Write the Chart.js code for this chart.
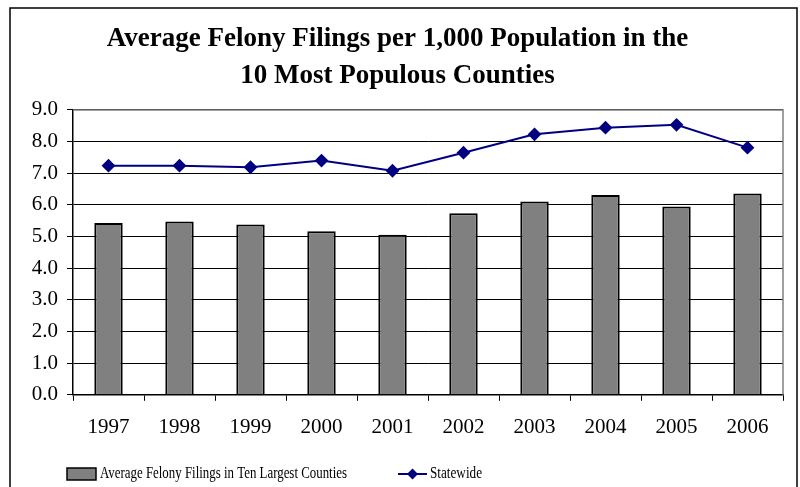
<!DOCTYPE html>
<html>
<head>
<meta charset="utf-8">
<script src="https://cdn.jsdelivr.net/npm/chart.js@4.4.1/dist/chart.umd.min.js"></script>
<style>
  body { margin: 0; background: #fff; }
</style>
</head>
<body>
<canvas id="myChart" width="800" height="487"></canvas>
<script>
// data
const years = ['1997', '1998', '1999', '2000', '2001', '2002', '2003', '2004', '2005', '2006'];
const tenLargest = [5.43, 5.48, 5.38, 5.17, 5.06, 5.74, 6.11, 6.31, 5.95, 6.36];
const statewide = [7.24, 7.24, 7.19, 7.40, 7.08, 7.65, 8.23, 8.44, 8.53, 7.81];
const titleLines = ['Average Felony Filings per 1,000 Population in the', '10 Most Populous Counties'];
const legendNames = ['Average Felony Filings in Ten Largest Counties', 'Statewide'];

const serif = "'Liberation Serif', 'DejaVu Serif', serif";

// outer frame + gray plot border + custom legend
const framePlugin = {
  id: 'frame',
  beforeDraw(chart) {
    const ctx = chart.ctx;
    ctx.save();
    ctx.fillStyle = '#fff';
    ctx.fillRect(0, 0, chart.width, chart.height);
    ctx.strokeStyle = '#000';
    ctx.lineWidth = 1.5;
    ctx.strokeRect(10, 8, 787, 500);
    ctx.restore();
  },
  afterDatasetsDraw(chart) {
    const ctx = chart.ctx;
    const a = chart.chartArea;
    ctx.save();
    ctx.strokeStyle = '#808080';
    ctx.lineWidth = 1.5;
    ctx.beginPath();
    ctx.moveTo(a.left, a.top);
    ctx.lineTo(a.right, a.top);
    ctx.lineTo(a.right, a.bottom);
    ctx.stroke();
    ctx.restore();
  },
  afterDraw(chart) {
    const ctx = chart.ctx;
    const lineDs = chart.data.datasets[0];
    const barDs = chart.data.datasets[1];
    const y = 474;
    ctx.save();
    // bar swatch
    ctx.fillStyle = barDs.backgroundColor;
    ctx.fillRect(67, y - 6, 29, 12);
    ctx.strokeStyle = '#000';
    ctx.lineWidth = 1.5;
    ctx.strokeRect(67, y - 6, 29, 12);
    // line swatch
    ctx.strokeStyle = lineDs.borderColor;
    ctx.lineWidth = 2;
    ctx.beginPath();
    ctx.moveTo(398, y);
    ctx.lineTo(427, y);
    ctx.stroke();
    ctx.fillStyle = lineDs.borderColor;
    ctx.beginPath();
    ctx.moveTo(412.5, y - 5.5);
    ctx.lineTo(418, y);
    ctx.lineTo(412.5, y + 5.5);
    ctx.lineTo(407, y);
    ctx.closePath();
    ctx.fill();
    // texts, slightly condensed like the original
    ctx.fillStyle = '#000';
    ctx.font = '17px ' + serif;
    ctx.textBaseline = 'middle';
    const drawText = (txt, x, w) => {
      const m = ctx.measureText(txt).width;
      ctx.save();
      ctx.translate(x, y);
      ctx.scale(w / m, 1);
      ctx.fillText(txt, 0, 0);
      ctx.restore();
    };
    drawText(barDs.label, 100, 247);
    drawText(lineDs.label, 430, 52);
    ctx.restore();
  }
};

const ctx = document.getElementById('myChart').getContext('2d');
const chart = new Chart(ctx, {
  type: 'bar',
  data: {
    labels: years,
    datasets: [{
      type: 'line',
      label: legendNames[1],
      data: statewide,
      borderColor: '#000080',
      backgroundColor: '#000080',
      borderWidth: 2,
      pointStyle: 'rectRot',
      pointRadius: 5.5,
      pointHoverRadius: 5.5,
      tension: 0,
      fill: false,
      order: 0
    }, {
      label: legendNames[0],
      data: tenLargest,
      backgroundColor: '#808080',
      borderColor: '#000',
      borderWidth: 2,
      barPercentage: 0.4,
      categoryPercentage: 1,
      order: 1
    }]
  },
  options: {
    responsive: false,
    animation: false,
    layout: {
      padding: { left: 12, right: 17, top: 0, bottom: 33 }
    },
    plugins: {
      legend: { display: false },
      tooltip: { enabled: false },
      title: {
        display: true,
        text: titleLines,
        color: '#000',
        font: { family: serif, size: 27, weight: 'bold', lineHeight: 1.37 },
        padding: { top: 21, bottom: 15 }
      }
    },
    scales: {
      x: {
        grid: {
          offset: true,
          drawOnChartArea: false,
          drawTicks: true,
          tickLength: 6,
          color: '#000'
        },
        border: { color: '#000', width: 1.5 },
        ticks: {
          color: '#000',
          font: { family: serif, size: 21 },
          padding: 14,
          maxRotation: 0
        }
      },
      y: {
        min: 0,
        max: 9,
        afterFit(scale) { scale.width = 61; },
        grid: {
          color: '#000',
          lineWidth: 1,
          tickLength: 6
        },
        border: { color: '#000', width: 1.5 },
        ticks: {
          stepSize: 1,
          color: '#000',
          font: { family: serif, size: 21 },
          padding: 9,
          callback: v => v.toFixed(1)
        }
      }
    }
  },
  plugins: [framePlugin]
});
</script>
</body>
</html>
